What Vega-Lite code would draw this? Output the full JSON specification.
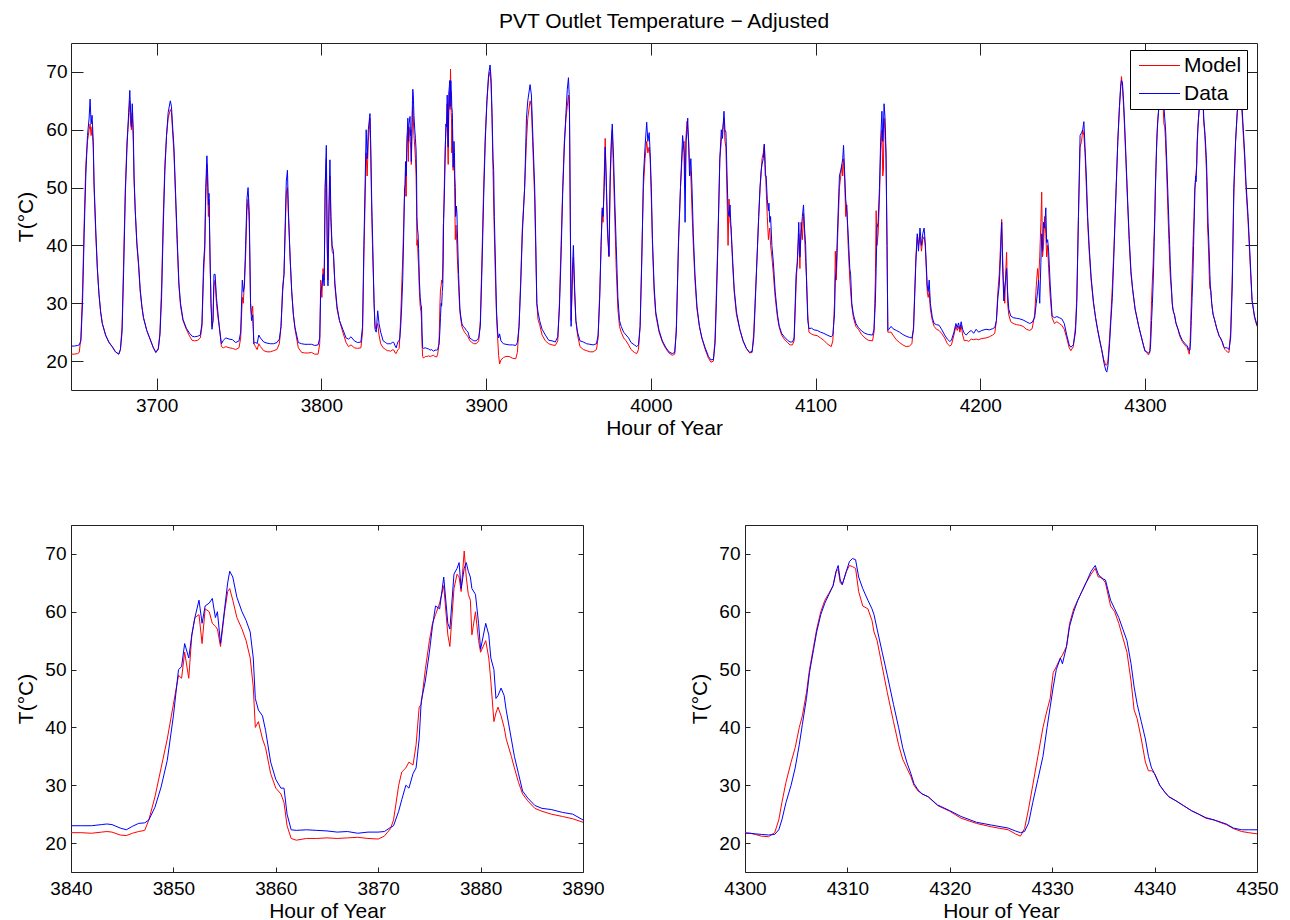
{"$schema":"https://vega.github.io/schema/vega-lite/v6.json","background":"white","padding":{"left":14,"top":10,"right":10,"bottom":5},
"config":{"font":"Liberation Sans","view":{"stroke":"#222","strokeWidth":1},"axis":{"grid":false,"domain":false,"labelFont":"Liberation Sans","labelFontSize":19,"labelColor":"#000","labelFlush":false,"labelOverlap":false,"titleFont":"Liberation Sans","titleFontSize":21,"titleFontWeight":"normal","titleColor":"#000","tickColor":"#222","tickWidth":1},"title":{"font":"Liberation Sans","fontSize":21,"fontWeight":"normal","color":"#000"}},
"datasets":{"pvt":[
{"h":3648,"Model":21.2,"Data":22.6},{"h":3650,"Model":21.2,"Data":22.6},{"h":3652,"Model":21.3,"Data":22.7},{"h":3653,"Model":21.5,"Data":22.8},{"h":3654,"Model":24,"Data":23.5},{"h":3655,"Model":32,"Data":30},{"h":3656,"Model":44,"Data":42},{"h":3657,"Model":54,"Data":52},{"h":3658,"Model":58,"Data":59},{"h":3659,"Model":60,"Data":62},{"h":3659.6,"Model":61,"Data":65.3},{"h":3660.2,"Model":59,"Data":61},{"h":3660.8,"Model":60.5,"Data":62.5},{"h":3661.5,"Model":57,"Data":58},{"h":3662,"Model":50,"Data":51},{"h":3663,"Model":42,"Data":43},{"h":3664,"Model":36,"Data":36},{"h":3665,"Model":31.5,"Data":31.5},{"h":3666,"Model":28.5,"Data":28.5},{"h":3667,"Model":26.5,"Data":26.5},{"h":3669,"Model":24.5,"Data":24.5},{"h":3671,"Model":23.2,"Data":23.3},{"h":3673,"Model":22.5,"Data":22.5},{"h":3675,"Model":21.6,"Data":21.6},{"h":3677,"Model":21.2,"Data":21.2},{"h":3678,"Model":22,"Data":22},{"h":3679,"Model":26,"Data":25},{"h":3680,"Model":38,"Data":36},{"h":3681,"Model":50,"Data":49},{"h":3682,"Model":58,"Data":57},{"h":3683,"Model":62,"Data":63},{"h":3683.7,"Model":65,"Data":66.8},{"h":3684.2,"Model":61,"Data":63},{"h":3684.7,"Model":60,"Data":60.5},{"h":3685.2,"Model":63,"Data":64.5},{"h":3685.8,"Model":58,"Data":60},{"h":3686.3,"Model":51,"Data":52},{"h":3687,"Model":46,"Data":46},{"h":3688,"Model":40,"Data":40.5},{"h":3689,"Model":36.5,"Data":37},{"h":3690,"Model":32,"Data":32.5},{"h":3691,"Model":29.5,"Data":29.5},{"h":3692,"Model":27.5,"Data":27.5},{"h":3694,"Model":25.3,"Data":25.3},{"h":3696,"Model":23.8,"Data":23.8},{"h":3698,"Model":22.3,"Data":22.3},{"h":3699.5,"Model":21.5,"Data":21.5},{"h":3701,"Model":22,"Data":22.2},{"h":3702,"Model":25,"Data":24.5},{"h":3703,"Model":33,"Data":31},{"h":3704,"Model":45,"Data":43},{"h":3705,"Model":54,"Data":53},{"h":3706,"Model":59,"Data":59},{"h":3707,"Model":62,"Data":63},{"h":3708.3,"Model":63.5,"Data":65},{"h":3709,"Model":63,"Data":64},{"h":3709.6,"Model":60,"Data":61},{"h":3710.5,"Model":56,"Data":57},{"h":3711.5,"Model":48,"Data":49},{"h":3712.5,"Model":40,"Data":41},{"h":3713.5,"Model":33,"Data":33.5},{"h":3714.5,"Model":29.5,"Data":30},{"h":3716,"Model":27,"Data":27.2},{"h":3718,"Model":25.5,"Data":25.7},{"h":3720,"Model":24.3,"Data":24.8},{"h":3721.5,"Model":23.6,"Data":24.3},{"h":3723,"Model":23.5,"Data":24.2},{"h":3725,"Model":23.6,"Data":24.3},{"h":3726.5,"Model":24,"Data":24.5},{"h":3727.5,"Model":26,"Data":26.5},{"h":3728.5,"Model":35,"Data":37},{"h":3729.2,"Model":39,"Data":40},{"h":3729.8,"Model":48,"Data":50},{"h":3730.5,"Model":54,"Data":55.5},{"h":3731,"Model":50,"Data":52},{"h":3731.4,"Model":45,"Data":47},{"h":3731.8,"Model":48,"Data":49},{"h":3732.4,"Model":38,"Data":38},{"h":3733,"Model":30,"Data":30},{"h":3733.6,"Model":26,"Data":25.5},{"h":3734.2,"Model":27,"Data":27},{"h":3734.8,"Model":33,"Data":35},{"h":3735.5,"Model":34,"Data":35},{"h":3736.3,"Model":30,"Data":31},{"h":3737,"Model":28,"Data":29},{"h":3738,"Model":26,"Data":26},{"h":3739.3,"Model":22.5,"Data":23},{"h":3740.5,"Model":22.3,"Data":23.6},{"h":3742,"Model":22.5,"Data":24},{"h":3744,"Model":22.3,"Data":23.8},{"h":3746,"Model":22.2,"Data":23.7},{"h":3748,"Model":22,"Data":23.2},{"h":3750,"Model":22.3,"Data":23.5},{"h":3751,"Model":24,"Data":25},{"h":3752,"Model":31,"Data":34},{"h":3752.6,"Model":30,"Data":32},{"h":3753.3,"Model":34,"Data":33},{"h":3754,"Model":38,"Data":40},{"h":3754.8,"Model":46,"Data":48},{"h":3755.5,"Model":48,"Data":50},{"h":3756.2,"Model":44,"Data":46},{"h":3757,"Model":30,"Data":30},{"h":3757.6,"Model":28,"Data":27},{"h":3758.3,"Model":29.5,"Data":28},{"h":3759,"Model":23,"Data":23},{"h":3760,"Model":22.5,"Data":23.3},{"h":3761,"Model":22,"Data":23},{"h":3762,"Model":23,"Data":24.5},{"h":3763,"Model":22.5,"Data":24},{"h":3765,"Model":21.8,"Data":23.3},{"h":3767,"Model":21.6,"Data":23.1},{"h":3769,"Model":21.6,"Data":23},{"h":3771,"Model":21.8,"Data":23},{"h":3773,"Model":22,"Data":23.2},{"h":3774.5,"Model":23,"Data":23.8},{"h":3775.5,"Model":26,"Data":26},{"h":3776.5,"Model":33,"Data":32},{"h":3777.3,"Model":35,"Data":35},{"h":3778,"Model":42,"Data":43},{"h":3778.7,"Model":49,"Data":51},{"h":3779.4,"Model":50,"Data":53},{"h":3780,"Model":45,"Data":46},{"h":3781,"Model":38,"Data":38},{"h":3782,"Model":32,"Data":32},{"h":3783,"Model":28,"Data":28},{"h":3784,"Model":25.5,"Data":25.8},{"h":3786,"Model":22.3,"Data":23.2},{"h":3788,"Model":21.5,"Data":23},{"h":3790,"Model":21.4,"Data":22.9},{"h":3792,"Model":21.4,"Data":22.9},{"h":3794,"Model":21.5,"Data":22.9},{"h":3796,"Model":21.2,"Data":22.7},{"h":3798,"Model":21.2,"Data":22.8},{"h":3799,"Model":23,"Data":24},{"h":3799.6,"Model":34,"Data":32},{"h":3800.3,"Model":31,"Data":33},{"h":3801,"Model":36,"Data":35},{"h":3801.7,"Model":34,"Data":33},{"h":3802.3,"Model":50,"Data":50},{"h":3803,"Model":55,"Data":57.3},{"h":3803.5,"Model":40,"Data":42},{"h":3804,"Model":34,"Data":33},{"h":3804.6,"Model":45,"Data":47},{"h":3805.2,"Model":52,"Data":54.8},{"h":3805.8,"Model":44,"Data":45},{"h":3806.5,"Model":39,"Data":40},{"h":3807.3,"Model":38.5,"Data":39},{"h":3808.2,"Model":33,"Data":33.5},{"h":3809.5,"Model":29,"Data":29.5},{"h":3811,"Model":27,"Data":27},{"h":3813,"Model":25,"Data":25.5},{"h":3815,"Model":23.2,"Data":24},{"h":3816.5,"Model":22.5,"Data":23.8},{"h":3818,"Model":22.8,"Data":24.2},{"h":3820,"Model":22.3,"Data":23.5},{"h":3822,"Model":22.2,"Data":23.2},{"h":3824,"Model":22.3,"Data":23.3},{"h":3825,"Model":25,"Data":26},{"h":3825.8,"Model":38,"Data":40},{"h":3826.5,"Model":47,"Data":50},{"h":3827.2,"Model":56,"Data":60},{"h":3827.8,"Model":52,"Data":55},{"h":3828.5,"Model":58,"Data":60},{"h":3829.5,"Model":62,"Data":62.8},{"h":3830,"Model":55,"Data":57},{"h":3830.6,"Model":45,"Data":47},{"h":3831.2,"Model":38,"Data":40},{"h":3832,"Model":30,"Data":30},{"h":3832.6,"Model":26,"Data":25.5},{"h":3833.3,"Model":25.5,"Data":25},{"h":3834.2,"Model":26.5,"Data":28.7},{"h":3835,"Model":24.5,"Data":26.5},{"h":3836,"Model":23,"Data":25},{"h":3837.5,"Model":22.3,"Data":23.5},{"h":3839,"Model":22,"Data":23.2},
{"h":3840,"Model":21.8,"Data":23.0},{"h":3841,"Model":21.8,"Data":23.0},{"h":3842,"Model":21.7,"Data":23.0},{"h":3843,"Model":21.9,"Data":23.2},{"h":3843.5,"Model":22.0,"Data":23.3},{"h":3844,"Model":21.9,"Data":23.2},{"h":3844.8,"Model":21.4,"Data":22.6},{"h":3845.4,"Model":21.3,"Data":22.3},{"h":3846,"Model":21.7,"Data":22.9},{"h":3846.6,"Model":22.0,"Data":23.4},{"h":3847.2,"Model":22.2,"Data":23.5},{"h":3847.6,"Model":24.0,"Data":24.0},{"h":3848.2,"Model":28.0,"Data":26.2},{"h":3848.8,"Model":33.0,"Data":29.7},{"h":3849.4,"Model":38.0,"Data":34.3},{"h":3850,"Model":44.0,"Data":42.0},{"h":3850.5,"Model":49.0,"Data":50.0},{"h":3850.8,"Model":48.5,"Data":50.5},{"h":3851.1,"Model":53.0,"Data":54.5},{"h":3851.5,"Model":48.5,"Data":52.0},{"h":3851.8,"Model":56.0,"Data":56.0},{"h":3852.1,"Model":59.0,"Data":59.0},{"h":3852.5,"Model":59.5,"Data":62.0},{"h":3852.8,"Model":54.5,"Data":58.0},{"h":3853.1,"Model":60.5,"Data":61.0},{"h":3853.5,"Model":60.0,"Data":61.5},{"h":3853.8,"Model":58.0,"Data":62.3},{"h":3854.1,"Model":57.5,"Data":59.0},{"h":3854.3,"Model":57.0,"Data":60.0},{"h":3854.6,"Model":54.0,"Data":54.5},{"h":3855,"Model":60.0,"Data":60.5},{"h":3855.3,"Model":63.5,"Data":65.0},{"h":3855.5,"Model":64.0,"Data":67.0},{"h":3855.8,"Model":62.0,"Data":66.0},{"h":3856.2,"Model":59.0,"Data":62.5},{"h":3856.7,"Model":57.0,"Data":60.0},{"h":3857.1,"Model":55.0,"Data":58.5},{"h":3857.5,"Model":52.0,"Data":56.5},{"h":3857.8,"Model":47.0,"Data":52.0},{"h":3858,"Model":40.0,"Data":45.0},{"h":3858.3,"Model":41.0,"Data":43.0},{"h":3858.7,"Model":38.0,"Data":42.0},{"h":3859,"Model":36.5,"Data":39.5},{"h":3859.5,"Model":32.0,"Data":34.0},{"h":3860,"Model":29.5,"Data":31.0},{"h":3860.5,"Model":28.5,"Data":29.5},{"h":3860.8,"Model":27.0,"Data":29.5},{"h":3861.1,"Model":23.0,"Data":25.0},{"h":3861.5,"Model":20.8,"Data":22.3},{"h":3862,"Model":20.5,"Data":22.2},{"h":3863,"Model":20.8,"Data":22.3},{"h":3864,"Model":20.8,"Data":22.2},{"h":3865,"Model":20.9,"Data":22.1},{"h":3866,"Model":20.8,"Data":21.9},{"h":3867,"Model":20.9,"Data":22.0},{"h":3868,"Model":21.0,"Data":21.7},{"h":3869,"Model":20.8,"Data":21.9},{"h":3870,"Model":20.7,"Data":21.9},{"h":3870.6,"Model":21.2,"Data":22.0},{"h":3871.2,"Model":22.5,"Data":22.7},{"h":3871.5,"Model":24.0,"Data":23.0},{"h":3872,"Model":30.0,"Data":25.5},{"h":3872.3,"Model":32.3,"Data":27.5},{"h":3872.7,"Model":33.0,"Data":30.0},{"h":3873,"Model":34.0,"Data":29.5},{"h":3873.4,"Model":33.5,"Data":32.0},{"h":3873.7,"Model":37.0,"Data":33.0},{"h":3874,"Model":43.5,"Data":38.0},{"h":3874.2,"Model":44.0,"Data":44.5},{"h":3874.6,"Model":50.0,"Data":48.0},{"h":3875,"Model":55.0,"Data":53.0},{"h":3875.3,"Model":58.0,"Data":57.5},{"h":3875.6,"Model":59.5,"Data":61.0},{"h":3876,"Model":61.5,"Data":60.5},{"h":3876.4,"Model":64.5,"Data":66.0},{"h":3876.8,"Model":56.0,"Data":58.0},{"h":3877,"Model":54.0,"Data":57.0},{"h":3877.4,"Model":64.0,"Data":66.5},{"h":3877.7,"Model":66.5,"Data":67.5},{"h":3877.9,"Model":66.0,"Data":68.5},{"h":3878.1,"Model":63.5,"Data":64.0},{"h":3878.4,"Model":70.5,"Data":67.5},{"h":3878.6,"Model":66.0,"Data":68.5},{"h":3878.8,"Model":63.0,"Data":67.0},{"h":3879,"Model":62.0,"Data":66.0},{"h":3879.15,"Model":56.0,"Data":64.0},{"h":3879.5,"Model":60.0,"Data":63.0},{"h":3879.8,"Model":55.0,"Data":58.0},{"h":3880,"Model":53.0,"Data":53.5},{"h":3880.5,"Model":55.0,"Data":58.0},{"h":3880.8,"Model":52.0,"Data":56.0},{"h":3881,"Model":48.0,"Data":52.0},{"h":3881.3,"Model":41.0,"Data":50.0},{"h":3881.5,"Model":42.5,"Data":45.0},{"h":3881.7,"Model":43.5,"Data":45.5},{"h":3882,"Model":42.0,"Data":46.8},{"h":3882.3,"Model":40.0,"Data":45.5},{"h":3882.5,"Model":38.0,"Data":43.0},{"h":3883,"Model":35.0,"Data":38.0},{"h":3883.3,"Model":33.0,"Data":35.0},{"h":3883.7,"Model":30.5,"Data":32.0},{"h":3884.1,"Model":28.5,"Data":29.0},{"h":3884.6,"Model":27.3,"Data":27.8},{"h":3885.3,"Model":26.0,"Data":26.5},{"h":3886,"Model":25.5,"Data":26.0},{"h":3886.9,"Model":25.0,"Data":25.8},{"h":3888,"Model":24.6,"Data":25.3},{"h":3889,"Model":24.2,"Data":25.0},{"h":3890,"Model":23.6,"Data":24.0},
{"h":3891,"Model":23.3,"Data":23.8},{"h":3892.5,"Model":23.0,"Data":23.5},{"h":3894,"Model":23.0,"Data":23.5},{"h":3895.5,"Model":23.5,"Data":24},{"h":3896.5,"Model":27,"Data":26},{"h":3897.5,"Model":38,"Data":36},{"h":3898.5,"Model":50,"Data":48},{"h":3899.5,"Model":59,"Data":58},{"h":3900.5,"Model":65,"Data":65},{"h":3901.5,"Model":69,"Data":69.5},{"h":3902.4,"Model":70,"Data":71.2},{"h":3903,"Model":68,"Data":69},{"h":3903.6,"Model":62,"Data":63},{"h":3904.2,"Model":53,"Data":55},{"h":3904.6,"Model":47,"Data":53},{"h":3905,"Model":42,"Data":45},{"h":3905.6,"Model":35,"Data":38},{"h":3906.3,"Model":28,"Data":29},{"h":3907,"Model":24,"Data":25},{"h":3907.6,"Model":21,"Data":24},{"h":3908.2,"Model":19.5,"Data":24.7},{"h":3909,"Model":20.2,"Data":23.5},{"h":3910.5,"Model":20.6,"Data":23.0},{"h":3912,"Model":20.8,"Data":22.9},{"h":3914,"Model":20.8,"Data":22.8},{"h":3916,"Model":20.5,"Data":22.8},{"h":3918,"Model":20.4,"Data":22.7},{"h":3919,"Model":21.5,"Data":23.2},{"h":3920,"Model":26,"Data":26},{"h":3921,"Model":34,"Data":33},{"h":3922,"Model":43,"Data":42},{"h":3923.4,"Model":50,"Data":50},{"h":3924.5,"Model":58,"Data":62},{"h":3925.3,"Model":62,"Data":65},{"h":3926.7,"Model":65,"Data":67.8},{"h":3927.5,"Model":64,"Data":66},{"h":3928.5,"Model":56,"Data":58},{"h":3929.5,"Model":48,"Data":50},{"h":3930.2,"Model":38,"Data":40},{"h":3930.8,"Model":30,"Data":30},{"h":3931.5,"Model":27.2,"Data":28.5},{"h":3932.5,"Model":26.3,"Data":27},{"h":3934,"Model":24.5,"Data":25.5},{"h":3936,"Model":23.5,"Data":24.5},{"h":3938,"Model":23.0,"Data":23.6},{"h":3940,"Model":22.8,"Data":23.5},{"h":3942,"Model":22.7,"Data":23.3},{"h":3943.5,"Model":23.5,"Data":24.2},{"h":3944.5,"Model":30,"Data":29},{"h":3945.5,"Model":40,"Data":38},{"h":3946.5,"Model":50,"Data":49},{"h":3947.5,"Model":58,"Data":57},{"h":3948.5,"Model":62,"Data":63},{"h":3949.3,"Model":64,"Data":67},{"h":3950,"Model":66,"Data":69},{"h":3950.6,"Model":63,"Data":65},{"h":3951.1,"Model":45,"Data":46},{"h":3951.6,"Model":27,"Data":26},{"h":3952.3,"Model":33,"Data":35},{"h":3953,"Model":38,"Data":40},{"h":3953.7,"Model":32,"Data":33},{"h":3954.5,"Model":27,"Data":27},{"h":3955.5,"Model":24.5,"Data":25},{"h":3957,"Model":22.5,"Data":23.5},{"h":3959,"Model":22,"Data":23.3},{"h":3961,"Model":21.8,"Data":23.0},{"h":3963,"Model":21.6,"Data":22.9},{"h":3965,"Model":21.6,"Data":22.8},{"h":3967,"Model":22,"Data":23},{"h":3968,"Model":24,"Data":24.5},{"h":3969,"Model":32,"Data":31},{"h":3969.8,"Model":40,"Data":40},{"h":3970.5,"Model":46,"Data":46.5},{"h":3971,"Model":44,"Data":45},{"h":3971.7,"Model":52,"Data":50},{"h":3972.3,"Model":58.5,"Data":57},{"h":3973,"Model":50,"Data":51},{"h":3973.7,"Model":42,"Data":43},{"h":3974.6,"Model":38,"Data":38.2},{"h":3975.3,"Model":50,"Data":52},{"h":3976,"Model":57,"Data":58},{"h":3976.6,"Model":60,"Data":61},{"h":3977.4,"Model":52,"Data":55},{"h":3978.2,"Model":44,"Data":47},{"h":3979,"Model":36,"Data":40},{"h":3980,"Model":29,"Data":31},{"h":3981,"Model":26,"Data":27},{"h":3982,"Model":25,"Data":26},{"h":3983.5,"Model":24,"Data":25},{"h":3985,"Model":23.5,"Data":24.5},{"h":3986.5,"Model":22.8,"Data":24},{"h":3988,"Model":22,"Data":23.2},{"h":3990,"Model":21.5,"Data":22.8},{"h":3991.5,"Model":21.3,"Data":22.5},{"h":3992.5,"Model":22,"Data":22.8},{"h":3993.5,"Model":26,"Data":26},{"h":3994.5,"Model":38,"Data":37},{"h":3995.5,"Model":50,"Data":52},{"h":3996.5,"Model":55,"Data":57},{"h":3997.5,"Model":58,"Data":61.3},{"h":3998.2,"Model":56,"Data":58},{"h":3999,"Model":57,"Data":59.5},{"h":3999.6,"Model":55,"Data":56},{"h":4000.3,"Model":48,"Data":50},{"h":4001,"Model":40,"Data":41},{"h":4002,"Model":32,"Data":33},{"h":4003,"Model":28,"Data":28.5},{"h":4005,"Model":25,"Data":25.3},{"h":4007,"Model":23.3,"Data":23.5},{"h":4009,"Model":22.2,"Data":22.4},{"h":4011,"Model":21.4,"Data":21.6},{"h":4013,"Model":21.0,"Data":21.3},{"h":4014.5,"Model":21.2,"Data":21.5},{"h":4015.5,"Model":26,"Data":25},{"h":4016.8,"Model":40,"Data":40.7},{"h":4018,"Model":50,"Data":50},{"h":4019.3,"Model":57,"Data":59},{"h":4020.2,"Model":58,"Data":56},{"h":4020.8,"Model":50,"Data":44},{"h":4021.4,"Model":59,"Data":58},{"h":4022,"Model":61.5,"Data":60},{"h":4022.4,"Model":60,"Data":62},{"h":4023,"Model":58,"Data":57},{"h":4023.5,"Model":54,"Data":52},{"h":4024.3,"Model":52,"Data":55},{"h":4025,"Model":46,"Data":50},{"h":4025.8,"Model":40,"Data":42},{"h":4026.8,"Model":34,"Data":35},{"h":4028,"Model":29,"Data":29.5},{"h":4029.5,"Model":26,"Data":26},{"h":4031,"Model":24,"Data":24},{"h":4033,"Model":22,"Data":22.3},{"h":4035,"Model":20.5,"Data":20.8},{"h":4036.5,"Model":19.8,"Data":20.2},{"h":4038,"Model":20,"Data":20.3},{"h":4039,"Model":24,"Data":23},{"h":4039.8,"Model":32,"Data":30},{"h":4040.8,"Model":42,"Data":41},{"h":4041.9,"Model":55,"Data":55},{"h":4042.8,"Model":58,"Data":60},{"h":4043.5,"Model":60,"Data":58.5},{"h":4044.4,"Model":62,"Data":63.2},{"h":4045,"Model":58,"Data":60},{"h":4045.6,"Model":57,"Data":59.6},{"h":4046.3,"Model":48,"Data":52},{"h":4046.9,"Model":40,"Data":46},{"h":4047.5,"Model":48,"Data":45},{"h":4048.1,"Model":44,"Data":47},{"h":4048.8,"Model":43,"Data":42},{"h":4049.6,"Model":37,"Data":38},{"h":4050.6,"Model":32,"Data":32.5},{"h":4052,"Model":28,"Data":28.5},{"h":4054,"Model":25.5,"Data":25.5},{"h":4056,"Model":23.5,"Data":23.5},{"h":4058,"Model":22.2,"Data":22.2},{"h":4060,"Model":21.4,"Data":21.5},{"h":4061.5,"Model":21.5,"Data":21.7},{"h":4062.5,"Model":25,"Data":24},{"h":4063.4,"Model":31,"Data":30},{"h":4064.5,"Model":38,"Data":38},{"h":4065.5,"Model":45,"Data":45},{"h":4066.3,"Model":50,"Data":50},{"h":4066.9,"Model":52,"Data":52.8},{"h":4067.5,"Model":55,"Data":54},{"h":4068.3,"Model":56,"Data":55},{"h":4068.9,"Model":57.5,"Data":57.5},{"h":4069.5,"Model":54,"Data":52},{"h":4070,"Model":50,"Data":52},{"h":4070.7,"Model":45,"Data":48},{"h":4071.4,"Model":41,"Data":46},{"h":4071.7,"Model":42,"Data":47.3},{"h":4072.2,"Model":43,"Data":44},{"h":4072.7,"Model":40,"Data":45},{"h":4073.5,"Model":38,"Data":40},{"h":4074.4,"Model":35,"Data":37},{"h":4075.5,"Model":31,"Data":32},{"h":4076.9,"Model":27.5,"Data":28},{"h":4078,"Model":25.8,"Data":26},{"h":4079.4,"Model":24.5,"Data":24.8},{"h":4081,"Model":23.8,"Data":24.2},{"h":4083,"Model":23.2,"Data":23.6},{"h":4084.5,"Model":22.8,"Data":23.3},{"h":4086,"Model":22.8,"Data":23.3},{"h":4087,"Model":23.5,"Data":24},{"h":4088.2,"Model":33,"Data":35},{"h":4089,"Model":38,"Data":37},{"h":4089.8,"Model":42,"Data":44},{"h":4090.5,"Model":36,"Data":38},{"h":4091.2,"Model":44,"Data":42},{"h":4092,"Model":41,"Data":45},{"h":4092.7,"Model":45.5,"Data":47},{"h":4093.3,"Model":42,"Data":43},{"h":4094,"Model":37,"Data":40},{"h":4094.6,"Model":34,"Data":33},{"h":4095.3,"Model":28,"Data":27},{"h":4096,"Model":25,"Data":25.6},{"h":4097.5,"Model":24.7,"Data":25.7},{"h":4099,"Model":24.5,"Data":25.4},{"h":4101,"Model":24.4,"Data":25.3},{"h":4103,"Model":24.0,"Data":25.0},{"h":4105,"Model":23.6,"Data":24.8},{"h":4107,"Model":23.0,"Data":24.5},{"h":4109.5,"Model":22.5,"Data":24.2},{"h":4110.5,"Model":23.5,"Data":24.5},{"h":4111.5,"Model":30,"Data":28},{"h":4112,"Model":39,"Data":34},{"h":4112.6,"Model":34,"Data":36},{"h":4113.5,"Model":42,"Data":44},{"h":4114.5,"Model":50,"Data":52},{"h":4115.3,"Model":52,"Data":53},{"h":4116,"Model":54,"Data":54},{"h":4116.5,"Model":52,"Data":55},{"h":4117,"Model":55,"Data":57.3},{"h":4117.6,"Model":52,"Data":53},{"h":4118.3,"Model":45,"Data":48},{"h":4119,"Model":47,"Data":46},{"h":4119.8,"Model":40,"Data":42},{"h":4120.8,"Model":34,"Data":36},{"h":4121.3,"Model":32,"Data":35},{"h":4122,"Model":29.5,"Data":30},{"h":4123,"Model":27.5,"Data":28},{"h":4124.5,"Model":26,"Data":26.5},{"h":4126,"Model":25.5,"Data":25.8},{"h":4128,"Model":24.6,"Data":25.2},{"h":4130,"Model":24,"Data":24.8},{"h":4132,"Model":23.6,"Data":24.6},{"h":4134.6,"Model":23.5,"Data":24.5},{"h":4135.5,"Model":25,"Data":25.5},{"h":4136.3,"Model":34,"Data":30},{"h":4136.8,"Model":46,"Data":36},{"h":4137.3,"Model":40,"Data":43},{"h":4138,"Model":42,"Data":44},{"h":4138.8,"Model":48,"Data":50},{"h":4139.5,"Model":56,"Data":58},{"h":4140.3,"Model":60,"Data":63.2},{"h":4140.8,"Model":52,"Data":58},{"h":4141.2,"Model":53,"Data":60},{"h":4141.6,"Model":62,"Data":64.5},{"h":4142.2,"Model":60,"Data":62},{"h":4142.8,"Model":55,"Data":56},{"h":4143.4,"Model":40,"Data":40},{"h":4143.9,"Model":25,"Data":25.3},{"h":4144.5,"Model":25,"Data":25.5},{"h":4145.9,"Model":25,"Data":26},{"h":4147,"Model":24.5,"Data":25.6},{"h":4149,"Model":23.7,"Data":25.3},{"h":4151,"Model":23.2,"Data":25},{"h":4153,"Model":22.8,"Data":24.6},{"h":4155,"Model":22.5,"Data":24.3},{"h":4157,"Model":22.6,"Data":24.1},{"h":4158.5,"Model":23,"Data":24},{"h":4159.5,"Model":26,"Data":25.5},{"h":4160.9,"Model":38,"Data":37},{"h":4161.8,"Model":42,"Data":42},{"h":4162.5,"Model":40,"Data":39},{"h":4163.4,"Model":41.5,"Data":43},{"h":4164.3,"Model":39,"Data":40},{"h":4165.1,"Model":41,"Data":42},{"h":4165.9,"Model":41.5,"Data":43},{"h":4166.6,"Model":40,"Data":40.5},{"h":4167.2,"Model":36,"Data":37},{"h":4167.8,"Model":32,"Data":33},{"h":4168.4,"Model":31,"Data":32},{"h":4169,"Model":32,"Data":34},{"h":4169.7,"Model":29,"Data":30},{"h":4170.9,"Model":27,"Data":27.5},{"h":4172,"Model":26,"Data":26.5},{"h":4173.4,"Model":25.5,"Data":26.3},{"h":4175,"Model":25.3,"Data":26.2},{"h":4176.5,"Model":24.8,"Data":25.5},{"h":4178.4,"Model":24,"Data":24.5},{"h":4180,"Model":23,"Data":23.8},{"h":4181.5,"Model":22.6,"Data":23.4},{"h":4182.5,"Model":22.8,"Data":23.6},{"h":4184,"Model":24.5,"Data":25},{"h":4185.2,"Model":26,"Data":26.5},{"h":4186,"Model":25.3,"Data":25.8},{"h":4186.8,"Model":26,"Data":26.6},{"h":4187.6,"Model":25,"Data":25.5},{"h":4188.4,"Model":26.2,"Data":26.8},{"h":4189.3,"Model":24.5,"Data":25.5},{"h":4190.3,"Model":23.5,"Data":24.8},{"h":4191.5,"Model":23.6,"Data":24.5},{"h":4193,"Model":23.4,"Data":25},{"h":4194.5,"Model":23.8,"Data":25.3},{"h":4196,"Model":23.7,"Data":24.8},{"h":4197.5,"Model":23.8,"Data":25.5},{"h":4199,"Model":23.7,"Data":25},{"h":4201,"Model":23.9,"Data":25.3},{"h":4203.5,"Model":24,"Data":25.5},{"h":4205.5,"Model":24.2,"Data":25.4},{"h":4207.5,"Model":24.5,"Data":25.6},{"h":4208.8,"Model":24.8,"Data":25.8},{"h":4209.8,"Model":27,"Data":27},{"h":4210.7,"Model":32,"Data":31},{"h":4211.5,"Model":35,"Data":33},{"h":4212.3,"Model":40,"Data":38},{"h":4213,"Model":44.5,"Data":44},{"h":4213.6,"Model":38,"Data":36},{"h":4214.3,"Model":32,"Data":30.4},{"h":4214.9,"Model":30,"Data":33},{"h":4215.4,"Model":35,"Data":34},{"h":4216,"Model":38.8,"Data":36},{"h":4216.6,"Model":30,"Data":32},{"h":4217.3,"Model":28,"Data":29},{"h":4218.5,"Model":26.8,"Data":27.8},{"h":4220,"Model":26.5,"Data":27.5},{"h":4222,"Model":26.3,"Data":27.4},{"h":4224,"Model":26.2,"Data":27.3},{"h":4226,"Model":26.0,"Data":27.1},{"h":4228,"Model":25.5,"Data":26.8},{"h":4230,"Model":25.3,"Data":26.5},{"h":4231.5,"Model":25.6,"Data":26.7},{"h":4233,"Model":28,"Data":27.5},{"h":4234,"Model":33,"Data":30},{"h":4234.8,"Model":36,"Data":32},{"h":4235.4,"Model":34,"Data":34},{"h":4236.1,"Model":38,"Data":30},{"h":4236.8,"Model":44,"Data":37},{"h":4237.3,"Model":49.2,"Data":42},{"h":4237.8,"Model":38,"Data":39},{"h":4238.4,"Model":40,"Data":44},{"h":4239.1,"Model":45,"Data":43},{"h":4239.8,"Model":42,"Data":46.5},{"h":4240.3,"Model":38,"Data":40.5},{"h":4240.9,"Model":40,"Data":41},{"h":4241.5,"Model":36,"Data":39},{"h":4242.5,"Model":31,"Data":33},{"h":4243.6,"Model":27.5,"Data":27.8},{"h":4245,"Model":26.5,"Data":27.5},{"h":4246.5,"Model":26.8,"Data":27.7},{"h":4248,"Model":26.5,"Data":27.5},{"h":4249.5,"Model":26.2,"Data":27.3},{"h":4251,"Model":25.5,"Data":26.5},{"h":4252.5,"Model":24,"Data":24.5},{"h":4254,"Model":22.3,"Data":22.8},{"h":4255,"Model":21.8,"Data":22.4},{"h":4256.5,"Model":22.5,"Data":22.8},{"h":4257.8,"Model":26,"Data":25},{"h":4258.6,"Model":31,"Data":30},{"h":4259.6,"Model":45,"Data":45},{"h":4260.6,"Model":57,"Data":59},{"h":4261.5,"Model":58,"Data":59.5},{"h":4262.2,"Model":60,"Data":60},{"h":4262.9,"Model":59,"Data":61.4},{"h":4263.6,"Model":56,"Data":57},{"h":4264.4,"Model":50,"Data":52},{"h":4265.2,"Model":44,"Data":45},{"h":4266.1,"Model":39,"Data":40},{"h":4267.3,"Model":34,"Data":34.5},{"h":4268.7,"Model":30,"Data":30.3},{"h":4270,"Model":27.5,"Data":27.5},{"h":4271.2,"Model":25.5,"Data":25.5},{"h":4272.5,"Model":23.7,"Data":23.5},{"h":4273.7,"Model":22,"Data":22},{"h":4275,"Model":20.2,"Data":19.8},{"h":4276.2,"Model":19.3,"Data":18.4},{"h":4276.8,"Model":19.3,"Data":18.1},{"h":4277.5,"Model":20,"Data":19.2},{"h":4278.5,"Model":24,"Data":23},{"h":4279.3,"Model":28,"Data":27},{"h":4280.2,"Model":33,"Data":31},{"h":4281.2,"Model":40,"Data":39},{"h":4282.5,"Model":50,"Data":50},{"h":4283.5,"Model":58,"Data":58},{"h":4284.5,"Model":64,"Data":64},{"h":4285.2,"Model":67,"Data":67.5},{"h":4285.7,"Model":69.2,"Data":68.5},{"h":4286.3,"Model":67.5,"Data":68.2},{"h":4287,"Model":64,"Data":65},{"h":4287.5,"Model":61,"Data":62},{"h":4288.5,"Model":54,"Data":55},{"h":4289.5,"Model":47,"Data":47.5},{"h":4290.5,"Model":40,"Data":41},{"h":4291.5,"Model":35,"Data":35.5},{"h":4292.5,"Model":32.3,"Data":32.5},{"h":4294,"Model":29,"Data":29},{"h":4296.2,"Model":26,"Data":26},{"h":4297.5,"Model":24.5,"Data":24.5},{"h":4299,"Model":22.8,"Data":22.8},
{"h":4300,"Model":21.8,"Data":21.7},{"h":4300.5,"Model":21.7,"Data":21.7},{"h":4301,"Model":21.5,"Data":21.6},{"h":4301.6,"Model":21.2,"Data":21.5},{"h":4302.3,"Model":21.1,"Data":21.4},{"h":4302.9,"Model":21.8,"Data":21.5},{"h":4303.3,"Model":24.0,"Data":22.3},{"h":4303.6,"Model":27.0,"Data":24.0},{"h":4304,"Model":30.5,"Data":27.0},{"h":4304.5,"Model":34.0,"Data":30.0},{"h":4304.9,"Model":36.5,"Data":33.0},{"h":4305.3,"Model":40.0,"Data":37.0},{"h":4305.6,"Model":42.0,"Data":40.5},{"h":4306,"Model":46.0,"Data":45.0},{"h":4306.3,"Model":50.0,"Data":49.5},{"h":4306.7,"Model":54.0,"Data":53.5},{"h":4307,"Model":57.0,"Data":56.5},{"h":4307.4,"Model":60.0,"Data":59.5},{"h":4307.8,"Model":62.0,"Data":61.5},{"h":4308.2,"Model":63.2,"Data":63.0},{"h":4308.6,"Model":64.5,"Data":64.5},{"h":4308.9,"Model":67.0,"Data":67.0},{"h":4309.1,"Model":67.3,"Data":68.0},{"h":4309.3,"Model":65.0,"Data":65.5},{"h":4309.5,"Model":64.7,"Data":64.7},{"h":4309.9,"Model":67.0,"Data":67.0},{"h":4310.2,"Model":68.0,"Data":68.7},{"h":4310.5,"Model":67.8,"Data":69.2},{"h":4310.8,"Model":67.5,"Data":69.0},{"h":4311.1,"Model":63.5,"Data":66.0},{"h":4311.5,"Model":61.0,"Data":64.0},{"h":4312,"Model":60.5,"Data":62.0},{"h":4312.4,"Model":58.5,"Data":60.5},{"h":4312.6,"Model":56.5,"Data":59.5},{"h":4312.9,"Model":55.0,"Data":57.0},{"h":4313.4,"Model":50.5,"Data":53.0},{"h":4313.9,"Model":46.0,"Data":49.0},{"h":4314.5,"Model":41.0,"Data":44.0},{"h":4315,"Model":37.0,"Data":40.0},{"h":4315.4,"Model":34.5,"Data":36.5},{"h":4315.8,"Model":33.0,"Data":34.0},{"h":4316.2,"Model":31.5,"Data":32.0},{"h":4316.5,"Model":30.0,"Data":30.3},{"h":4316.9,"Model":29.0,"Data":29.2},{"h":4317.3,"Model":28.5,"Data":28.5},{"h":4317.9,"Model":28.0,"Data":28.0},{"h":4318.8,"Model":26.5,"Data":26.6},{"h":4320,"Model":25.5,"Data":25.6},{"h":4321.1,"Model":24.3,"Data":24.6},{"h":4322.6,"Model":23.4,"Data":23.6},{"h":4324.1,"Model":22.8,"Data":23.1},{"h":4325.7,"Model":22.3,"Data":22.6},{"h":4326.4,"Model":21.6,"Data":22.1},{"h":4326.9,"Model":21.2,"Data":21.8},{"h":4327.3,"Model":22.5,"Data":22.0},{"h":4327.7,"Model":26.0,"Data":23.5},{"h":4328.1,"Model":30.0,"Data":27.0},{"h":4328.6,"Model":35.0,"Data":31.0},{"h":4329.1,"Model":40.0,"Data":35.0},{"h":4329.5,"Model":43.0,"Data":40.0},{"h":4329.8,"Model":45.0,"Data":43.5},{"h":4330.1,"Model":49.5,"Data":47.0},{"h":4330.4,"Model":50.5,"Data":50.0},{"h":4330.8,"Model":52.0,"Data":52.0},{"h":4331,"Model":52.5,"Data":51.0},{"h":4331.4,"Model":54.0,"Data":54.0},{"h":4331.7,"Model":58.0,"Data":57.5},{"h":4332.1,"Model":60.5,"Data":60.0},{"h":4332.5,"Model":62.0,"Data":62.0},{"h":4332.9,"Model":63.5,"Data":63.5},{"h":4333.3,"Model":65.0,"Data":65.0},{"h":4333.8,"Model":66.5,"Data":67.0},{"h":4334.2,"Model":67.5,"Data":68.0},{"h":4334.5,"Model":66.0,"Data":66.5},{"h":4334.8,"Model":66.0,"Data":65.8},{"h":4335.2,"Model":65.0,"Data":65.5},{"h":4335.7,"Model":61.0,"Data":62.0},{"h":4336.1,"Model":60.0,"Data":60.5},{"h":4336.5,"Model":58.0,"Data":59.0},{"h":4336.9,"Model":55.5,"Data":57.0},{"h":4337.3,"Model":53.0,"Data":55.0},{"h":4337.7,"Model":48.0,"Data":51.0},{"h":4338,"Model":43.0,"Data":47.0},{"h":4338.3,"Model":41.5,"Data":44.0},{"h":4338.7,"Model":38.0,"Data":41.0},{"h":4339.1,"Model":34.0,"Data":38.0},{"h":4339.4,"Model":32.5,"Data":35.0},{"h":4339.7,"Model":32.5,"Data":33.0},{"h":4340,"Model":32.0,"Data":32.0},{"h":4340.5,"Model":30.0,"Data":30.0},{"h":4341,"Model":28.8,"Data":28.8},{"h":4341.4,"Model":28.0,"Data":28.0},{"h":4342.1,"Model":27.3,"Data":27.3},{"h":4342.8,"Model":26.5,"Data":26.5},{"h":4343.6,"Model":25.6,"Data":25.6},{"h":4344.3,"Model":25.0,"Data":25.0},{"h":4345,"Model":24.3,"Data":24.4},{"h":4345.8,"Model":24.0,"Data":24.0},{"h":4346.5,"Model":23.5,"Data":23.6},{"h":4347,"Model":23.2,"Data":23.3},{"h":4347.7,"Model":22.5,"Data":22.6},{"h":4348.5,"Model":22.0,"Data":22.3},{"h":4349.2,"Model":21.8,"Data":22.3},{"h":4350,"Model":21.6,"Data":22.3},
{"h":4351,"Model":21.5,"Data":22.0},{"h":4352,"Model":25,"Data":24},{"h":4353,"Model":35,"Data":33},{"h":4353.9,"Model":48,"Data":50},{"h":4355,"Model":58,"Data":58},{"h":4356,"Model":63,"Data":63},{"h":4357,"Model":66,"Data":66},{"h":4357.8,"Model":67,"Data":67.5},{"h":4358.5,"Model":65,"Data":66},{"h":4359.5,"Model":60,"Data":61},{"h":4360.5,"Model":55,"Data":56},{"h":4361.3,"Model":50,"Data":51},{"h":4362.6,"Model":44,"Data":45},{"h":4363.8,"Model":37,"Data":38},{"h":4365,"Model":30.5,"Data":30.5},{"h":4366.5,"Model":27.5,"Data":27.8},{"h":4368,"Model":26.0,"Data":26.2}
]},
"bounds":"flush","spacing":135,
"resolve":{"scale":{"x":"independent","y":"independent","color":"independent"},"legend":{"color":"independent"}},
"vconcat":[
{"width":1186,"height":347,
"title":{"text":"PVT Outlet Temperature − Adjusted","offset":11,"anchor":"middle"},
"data":{"name":"pvt"},
"transform":[{"fold":["Model","Data"],"as":["series","T"]}],
"resolve":{"axis":{"x":"independent","y":"independent"}},
"layer":[
{"mark":{"type":"line","strokeWidth":1,"clip":true},
"encoding":{
"x":{"field":"h","type":"quantitative","scale":{"domain":[3648,4368],"nice":false,"zero":false},"axis":{"orient":"bottom","values":[3700,3800,3900,4000,4100,4200,4300],"format":"d","tickSize":-12,"labelPadding":18,"title":"Hour of Year","titleX":593,"titleY":27,"titleAlign":"center","titleBaseline":"top","titleAngle":0}},
"y":{"field":"T","type":"quantitative","scale":{"domain":[15,75],"nice":false,"zero":false},"axis":{"orient":"left","values":[20,30,40,50,60,70],"format":"d","tickSize":-12,"labelPadding":16,"title":"T(°C)","titleX":-45,"titleY":173.5,"titleAngle":-90,"titleAlign":"center","titleBaseline":"middle"}},
"color":{"field":"series","type":"nominal","scale":{"domain":["Model","Data"],"range":["#ff0000","#0000ff"]},"legend":{"title":null,"orient":"none","legendX":1059,"legendY":7,"symbolType":"M-1,0H5.3","symbolSize":169,"symbolStrokeWidth":1,"labelFontSize":21,"labelFont":"Liberation Sans","labelColor":"#000","labelOffset":28,"rowPadding":6,"padding":5,"strokeColor":"#000","fillColor":"#fff","cornerRadius":0}}
}},
{"mark":{"type":"point","opacity":0,"clip":true},
"encoding":{
"x":{"field":"h","type":"quantitative","axis":{"orient":"top","values":[3700,3800,3900,4000,4100,4200,4300],"labels":false,"title":null,"tickSize":-12}},
"y":{"field":"T","type":"quantitative","axis":{"orient":"right","values":[20,30,40,50,60,70],"labels":false,"title":null,"tickSize":-12}}}}
]},
{"hconcat":[
{"width":512,"height":347,"data":{"name":"pvt"},
"transform":[{"filter":{"field":"h","range":[3838,3892]}},{"fold":["Model","Data"],"as":["series","T"]}],
"resolve":{"axis":{"x":"independent","y":"independent"}},
"layer":[
{"mark":{"type":"line","strokeWidth":1,"clip":true},
"encoding":{
"x":{"field":"h","type":"quantitative","scale":{"domain":[3840,3890],"nice":false,"zero":false},"axis":{"orient":"bottom","values":[3840,3850,3860,3870,3880,3890],"format":"d","tickSize":-5,"labelPadding":12,"title":"Hour of Year","titleX":256,"titleY":28.5,"titleAlign":"center","titleBaseline":"top","titleAngle":0}},
"y":{"field":"T","type":"quantitative","scale":{"domain":[15,75],"nice":false,"zero":false},"axis":{"orient":"left","values":[20,30,40,50,60,70],"format":"d","tickSize":-5,"labelPadding":10,"title":"T(°C)","titleX":-45,"titleY":173.5,"titleAngle":-90,"titleAlign":"center","titleBaseline":"middle"}},
"color":{"field":"series","type":"nominal","scale":{"domain":["Model","Data"],"range":["#ff0000","#0000ff"]},"legend":null}}},
{"mark":{"type":"point","opacity":0,"clip":true},
"encoding":{
"x":{"field":"h","type":"quantitative","axis":{"orient":"top","values":[3840,3850,3860,3870,3880,3890],"labels":false,"title":null,"tickSize":-5}},
"y":{"field":"T","type":"quantitative","axis":{"orient":"right","values":[20,30,40,50,60,70],"labels":false,"title":null,"tickSize":-5}}}}
]},
{"width":512,"height":347,"data":{"name":"pvt"},
"transform":[{"filter":{"field":"h","range":[4298,4352]}},{"fold":["Model","Data"],"as":["series","T"]}],
"resolve":{"axis":{"x":"independent","y":"independent"}},
"layer":[
{"mark":{"type":"line","strokeWidth":1,"clip":true},
"encoding":{
"x":{"field":"h","type":"quantitative","scale":{"domain":[4300,4350],"nice":false,"zero":false},"axis":{"orient":"bottom","values":[4300,4310,4320,4330,4340,4350],"format":"d","tickSize":-5,"labelPadding":12,"title":"Hour of Year","titleX":256,"titleY":28.5,"titleAlign":"center","titleBaseline":"top","titleAngle":0}},
"y":{"field":"T","type":"quantitative","scale":{"domain":[15,75],"nice":false,"zero":false},"axis":{"orient":"left","values":[20,30,40,50,60,70],"format":"d","tickSize":-5,"labelPadding":10,"title":"T(°C)","titleX":-45,"titleY":173.5,"titleAngle":-90,"titleAlign":"center","titleBaseline":"middle"}},
"color":{"field":"series","type":"nominal","scale":{"domain":["Model","Data"],"range":["#ff0000","#0000ff"]},"legend":null}}},
{"mark":{"type":"point","opacity":0,"clip":true},
"encoding":{
"x":{"field":"h","type":"quantitative","axis":{"orient":"top","values":[4300,4310,4320,4330,4340,4350],"labels":false,"title":null,"tickSize":-5}},
"y":{"field":"T","type":"quantitative","axis":{"orient":"right","values":[20,30,40,50,60,70],"labels":false,"title":null,"tickSize":-5}}}}
]}
],"spacing":162,"bounds":"flush","resolve":{"scale":{"x":"independent","y":"independent","color":"independent"},"legend":{"color":"independent"}}}
]}
